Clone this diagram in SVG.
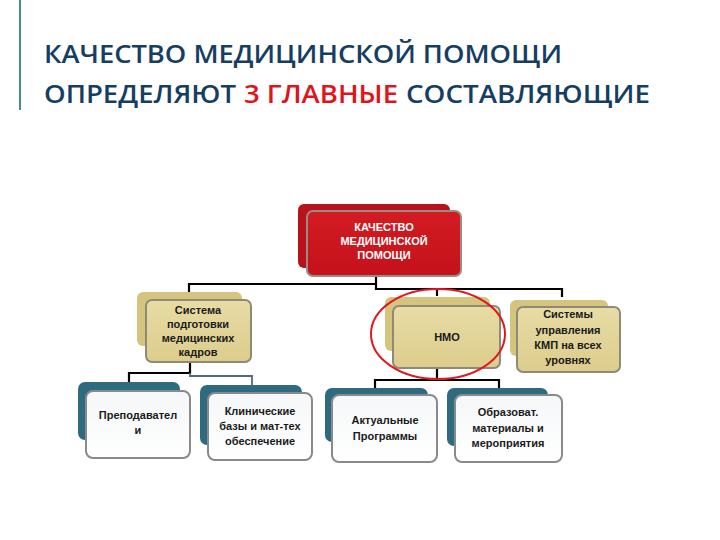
<svg xmlns="http://www.w3.org/2000/svg" width="720" height="540" viewBox="0 0 720 540">
<defs>
<style>
.title{font-family:"Open Sans","Noto Sans",sans-serif;font-weight:600;font-size:25px;fill:#163e63}
.red{fill:#e0141b}
.lbl{font-family:"Liberation Sans","DejaVu Sans",sans-serif;font-weight:bold;font-size:11px;fill:#1a1a1a;text-anchor:middle}
.wlbl{font-family:"Liberation Sans","DejaVu Sans",sans-serif;font-weight:bold;font-size:11px;fill:#ffffff;text-anchor:middle}
.conn{stroke:#000;stroke-width:2.2;fill:none}
.conng{stroke:#4d6a78;stroke-width:1.8;fill:none}
.rback{fill:#b8121a}
.rfront{fill:url(#gr);stroke:#9a8a88;stroke-width:2}
.kback{fill:#d4c47e}
.kfront{fill:url(#gk);stroke:#8f8a78;stroke-width:2}
.tback{fill:#2f6b80}
.tfront{fill:url(#gt);stroke:#8a8a8a;stroke-width:2}
</style>
<linearGradient id="gr" x1="0" y1="0" x2="0" y2="1"><stop offset="0" stop-color="#d31b22"/><stop offset="1" stop-color="#c4121a"/></linearGradient>
<linearGradient id="gk" x1="0" y1="0" x2="0" y2="1"><stop offset="0" stop-color="#e8dca6"/><stop offset="1" stop-color="#dccd8c"/></linearGradient>
<linearGradient id="gt" x1="0" y1="0" x2="0" y2="1"><stop offset="0" stop-color="#f5f7f8"/><stop offset="1" stop-color="#ffffff"/></linearGradient>
</defs>
<rect width="720" height="540" fill="#ffffff"/>
<line x1="20" y1="0" x2="20" y2="110" stroke="#4a8a8c" stroke-width="2"/>
<text class="title" x="44" y="63" textLength="518" lengthAdjust="spacingAndGlyphs">КАЧЕСТВО МЕДИЦИНСКОЙ ПОМОЩИ</text>
<text class="title" y="103"><tspan x="44" textLength="192" lengthAdjust="spacingAndGlyphs">ОПРЕДЕЛЯЮТ</tspan><tspan class="red" x="244" textLength="154" lengthAdjust="spacingAndGlyphs">3 ГЛАВНЫЕ</tspan><tspan x="406" textLength="244" lengthAdjust="spacingAndGlyphs">СОСТАВЛЯЮЩИЕ</tspan></text>

<g id="connectors">
<polyline class="conn" points="376,276 376,284 189,284 189,292"/>
<polyline class="conn" points="376,284 376,289 562,289 562,297"/>
<line class="conn" x1="437" y1="289" x2="437" y2="296"/>
<polyline class="conn" points="190,362 190,373 129,373 129,382"/>
<polyline class="conng" points="190,373 190,376 252,376 252,385"/>
<polyline class="conn" points="437,368 437,380 375,380 375,388"/>
<polyline class="conn" points="437,380 499,380 499,388"/>
</g>

<g id="n-top">
<rect class="rback" x="298" y="204" width="152" height="64" rx="6"/>
<rect class="rfront" x="307" y="211" width="154" height="65" rx="6"/>
<text class="wlbl" x="384" y="231">КАЧЕСТВО</text>
<text class="wlbl" x="384" y="245">МЕДИЦИНСКОЙ</text>
<text class="wlbl" x="384" y="259">ПОМОЩИ</text>
</g>

<g id="n-sistema">
<rect class="kback" x="137" y="292" width="105" height="54" rx="6"/>
<rect class="kfront" x="146" y="300" width="105" height="62" rx="6"/>
<text class="lbl" x="198" y="314">Система</text>
<text class="lbl" x="198" y="328">подготовки</text>
<text class="lbl" x="198" y="342">медицинских</text>
<text class="lbl" x="198" y="356">кадров</text>
</g>

<g id="n-nmo">
<rect class="kback" x="385" y="297" width="105" height="54" rx="6"/>
<rect class="kfront" x="393" y="306" width="107" height="62" rx="6"/>
<text class="lbl" x="447" y="341">НМО</text>
</g>

<g id="n-kmp">
<rect class="kback" x="510" y="300" width="98" height="56" rx="6"/>
<rect class="kfront" x="517" y="307" width="103" height="65" rx="6"/>
<text class="lbl" x="568" y="318">Системы</text>
<text class="lbl" x="568" y="334">управления</text>
<text class="lbl" x="568" y="349">КМП на всех</text>
<text class="lbl" x="568" y="364">уровнях</text>
</g>

<g id="n-prep">
<rect class="tback" x="78" y="382" width="102" height="58" rx="7"/>
<rect class="tfront" x="86" y="391" width="104" height="67" rx="7"/>
<text class="lbl" x="138" y="419">Преподавател</text>
<text class="lbl" x="138" y="434">и</text>
</g>

<g id="n-klin">
<rect class="tback" x="200" y="385" width="102" height="60" rx="7"/>
<rect class="tfront" x="208" y="393" width="104" height="67" rx="7"/>
<text class="lbl" x="260" y="415">Клинические</text>
<text class="lbl" x="260" y="430">базы  и мат-тех</text>
<text class="lbl" x="260" y="445">обеспечение</text>
</g>

<g id="n-aktual">
<rect class="tback" x="325" y="388" width="103" height="54" rx="7"/>
<rect class="tfront" x="332" y="395" width="105" height="67" rx="7"/>
<text class="lbl" x="385" y="424">Актуальные</text>
<text class="lbl" x="385" y="440">Программы</text>
</g>

<g id="n-obraz">
<rect class="tback" x="447" y="388" width="101" height="58" rx="7"/>
<rect class="tfront" x="455" y="395" width="107" height="67" rx="7"/>
<text class="lbl" x="508" y="416">Образоват.</text>
<text class="lbl" x="508" y="432">материалы и</text>
<text class="lbl" x="508" y="447">мероприятия</text>
</g>

<ellipse id="highlight" cx="438" cy="334" rx="67" ry="45" fill="none" stroke="#e01820" stroke-width="2"/>
</svg>
